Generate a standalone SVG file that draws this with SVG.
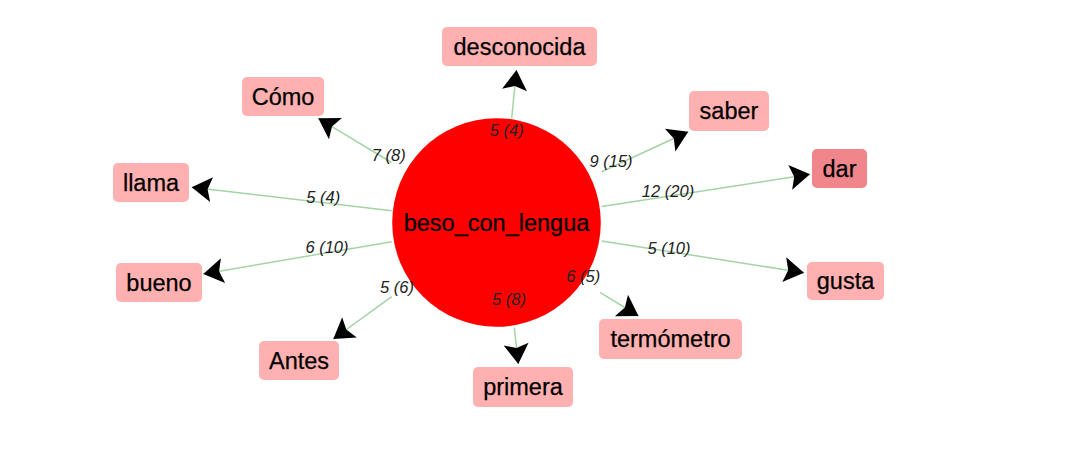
<svg xmlns="http://www.w3.org/2000/svg" width="1086" height="464" viewBox="0 0 1086 464">
  <style>
    .box { fill: #ffb0b0; }
    .box.hi { fill: #f0868b; }
    .ntext { font-family: "Liberation Sans", Arial, sans-serif; font-size: 23.5px; fill: #000; text-anchor: middle; stroke: #000; stroke-width: 0.25; }
    .edge { stroke: #a3d4a3; stroke-width: 1.5; fill: none; marker-end: url(#arrow); }
    .elabel { font-family: "Liberation Sans", Arial, sans-serif; font-size: 16.5px; font-style: italic; fill: #222; text-anchor: middle; }
  </style>
  <defs>
    <marker id="arrow" markerUnits="userSpaceOnUse" viewBox="-21 -14 22 28" markerWidth="22" markerHeight="28" refX="0" refY="0" orient="auto" overflow="visible">
      <path d="M0,0 L-20,-12.5 L-16,0 L-20,12.5 Z" fill="#000"/>
    </marker>
  </defs>
  <rect x="0" y="0" width="1086" height="464" fill="#fff"/>

  <g id="nodes">
    <g id="node-center">
      <circle cx="496.5" cy="222.5" r="104.3" fill="#ff0000"/>
      <text class="ntext" x="496.5" y="230.5">beso_con_lengua</text>
    </g>
    <g id="node-desconocida">
      <rect class="box" x="442" y="27" width="155" height="39" rx="5"/>
      <text class="ntext" x="519.5" y="54.5">desconocida</text>
    </g>
    <g id="node-saber">
      <rect class="box" x="689" y="91" width="80" height="40" rx="5"/>
      <text class="ntext" x="729" y="119">saber</text>
    </g>
    <g id="node-dar">
      <rect class="box hi" x="812" y="149" width="55" height="39" rx="5"/>
      <text class="ntext" x="839.5" y="176.5">dar</text>
    </g>
    <g id="node-gusta">
      <rect class="box" x="807" y="262" width="77" height="38" rx="5"/>
      <text class="ntext" x="845.5" y="289">gusta</text>
    </g>
    <g id="node-termometro">
      <rect class="box" x="599" y="319" width="143" height="40" rx="5"/>
      <text class="ntext" x="670.5" y="347">termómetro</text>
    </g>
    <g id="node-primera">
      <rect class="box" x="473" y="367" width="100" height="40" rx="5"/>
      <text class="ntext" x="523" y="395">primera</text>
    </g>
    <g id="node-antes">
      <rect class="box" x="259" y="341" width="80" height="39" rx="5"/>
      <text class="ntext" x="299" y="368.5">Antes</text>
    </g>
    <g id="node-bueno">
      <rect class="box" x="116" y="263" width="86" height="39" rx="5"/>
      <text class="ntext" x="159" y="290.5">bueno</text>
    </g>
    <g id="node-llama">
      <rect class="box" x="113" y="163" width="76" height="39" rx="5"/>
      <text class="ntext" x="151" y="190.5">llama</text>
    </g>
    <g id="node-como">
      <rect class="box" x="242" y="77" width="82" height="39" rx="5"/>
      <text class="ntext" x="283" y="104.5">Cómo</text>
    </g>
  </g>

  <g id="connectors">
    <line class="edge" x1="511.7" y1="118.3" x2="516.5" y2="70"/>
    <line class="edge" x1="601.7" y1="171.7" x2="688.3" y2="131.7"/>
    <line class="edge" x1="601.7" y1="206.5" x2="810" y2="174.3"/>
    <line class="edge" x1="601.7" y1="241" x2="804" y2="272.7"/>
    <line class="edge" x1="600" y1="292.3" x2="638.5" y2="316"/>
    <line class="edge" x1="514.3" y1="327.5" x2="518.3" y2="364"/>
    <line class="edge" x1="391.7" y1="296.7" x2="333.3" y2="339"/>
    <line class="edge" x1="391.7" y1="241.7" x2="203.3" y2="274"/>
    <line class="edge" x1="391.7" y1="210.7" x2="191.7" y2="187.3"/>
    <line class="edge" x1="391.5" y1="162.5" x2="318.3" y2="118.3"/>

    <text class="elabel" x="506.7" y="136">5 (4)</text>
    <text class="elabel" x="611" y="167">9 (15)</text>
    <text class="elabel" x="668" y="196.5">12 (20)</text>
    <text class="elabel" x="669" y="253.5">5 (10)</text>
    <text class="elabel" x="583.3" y="281.5">6 (5)</text>
    <text class="elabel" x="509" y="305">5 (8)</text>
    <text class="elabel" x="397" y="293">5 (6)</text>
    <text class="elabel" x="327" y="253">6 (10)</text>
    <text class="elabel" x="323.3" y="203">5 (4)</text>
    <text class="elabel" x="388.7" y="161">7 (8)</text>
  </g>
</svg>
